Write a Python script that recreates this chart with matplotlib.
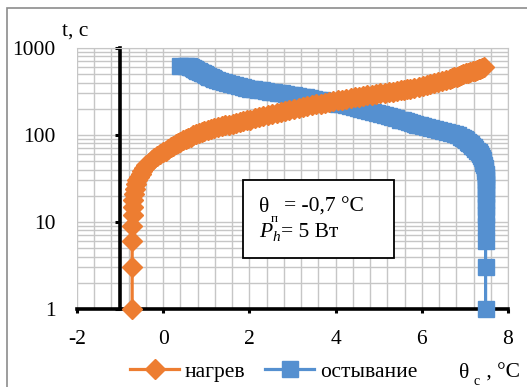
import matplotlib
matplotlib.use("Agg")

import matplotlib.pyplot as plt
from matplotlib.patches import Rectangle
from matplotlib.ticker import MultipleLocator, LogLocator, NullFormatter

plt.rcParams['font.family'] = ['Liberation Serif', 'DejaVu Serif']

#нагрев: время t [c] и температура [°C]
heat_t = [1, 3, 6, 9, 12, 15, 18, 21, 24, 27, 30, 33, 36, 39, 42, 45, 48, 51, 54, 57,
          60, 63, 66, 69, 72, 75, 78, 81, 84, 87, 90, 93, 96, 99, 102, 105, 108, 111, 114, 117,
          120, 123, 126, 129, 132, 135, 138, 141, 144, 147, 150, 155, 160, 165, 170, 175, 180, 185, 190, 195,
          200, 205, 210, 215, 220, 225, 230, 235, 240, 245, 250, 255, 260, 265, 270, 275, 280, 285, 290, 295,
          300, 305, 310, 315, 320, 325, 330, 335, 340, 350, 360, 370, 380, 390, 400, 410, 420, 430, 440, 450,
          460, 470, 480, 490, 500, 510, 520, 530, 540, 550, 560, 570, 580, 590, 600]
heat_T = [-0.72, -0.72, -0.72, -0.72, -0.71, -0.70, -0.69, -0.67, -0.65, -0.63, -0.60, -0.56, -0.52, -0.49, -0.45, -0.41, -0.34, -0.27, -0.21, -0.14,
          -0.07, 0.00, 0.06, 0.12, 0.17, 0.23, 0.29, 0.34, 0.40, 0.46, 0.52, 0.58, 0.64, 0.70, 0.76, 0.83, 0.89, 0.95, 1.03, 1.11,
          1.19, 1.28, 1.36, 1.44, 1.53, 1.61, 1.69, 1.78, 1.86, 1.94, 2.02, 2.12, 2.22, 2.32, 2.43, 2.53, 2.63, 2.73, 2.83, 2.93,
          3.04, 3.14, 3.24, 3.34, 3.45, 3.55, 3.65, 3.75, 3.85, 3.95, 4.05, 4.15, 4.25, 4.35, 4.44, 4.54, 4.64, 4.74, 4.84, 4.94,
          5.04, 5.14, 5.24, 5.33, 5.42, 5.51, 5.58, 5.65, 5.72, 5.83, 5.93, 6.02, 6.11, 6.20, 6.29, 6.38, 6.47, 6.56, 6.65, 6.70,
          6.75, 6.81, 6.86, 6.91, 6.96, 7.02, 7.07, 7.12, 7.18, 7.23, 7.28, 7.32, 7.36, 7.40, 7.44]

#остывание
cool_t = [1, 3, 6, 9, 12, 15, 18, 21, 24, 27, 30, 33, 36, 39, 42, 45, 48, 51, 54, 57,
          60, 63, 66, 69, 72, 75, 78, 81, 84, 87, 90, 93, 96, 99, 102, 105, 108, 111, 114, 117,
          120, 123, 126, 129, 132, 135, 138, 141, 144, 147, 150, 155, 160, 165, 170, 175, 180, 185, 190, 195,
          200, 205, 210, 215, 220, 225, 230, 235, 240, 245, 250, 255, 260, 265, 270, 275, 280, 285, 290, 295,
          300, 305, 310, 315, 320, 325, 330, 335, 340, 350, 360, 370, 380, 390, 400, 410, 420, 430, 440, 450,
          460, 470, 480, 490, 500, 510, 520, 530, 540, 550, 560, 570, 580, 590, 600, 610, 617, 620, 625]
cool_T = [7.48, 7.48, 7.48, 7.48, 7.48, 7.48, 7.49, 7.49, 7.49, 7.49, 7.49, 7.48, 7.48, 7.47, 7.46, 7.45, 7.43, 7.42, 7.40, 7.38,
          7.35, 7.32, 7.28, 7.24, 7.21, 7.17, 7.14, 7.10, 7.07, 7.03, 7.00, 6.95, 6.90, 6.84, 6.77, 6.68, 6.59, 6.50, 6.40, 6.31,
          6.22, 6.12, 6.03, 5.96, 5.90, 5.84, 5.77, 5.71, 5.64, 5.57, 5.50, 5.41, 5.32, 5.23, 5.14, 5.05, 4.96, 4.87, 4.78, 4.69,
          4.60, 4.51, 4.42, 4.33, 4.24, 4.15, 4.06, 3.97, 3.87, 3.78, 3.69, 3.59, 3.50, 3.41, 3.31, 3.22, 3.13, 3.03, 2.94, 2.85,
          2.75, 2.66, 2.57, 2.47, 2.38, 2.29, 2.19, 2.10, 2.01, 1.92, 1.84, 1.75, 1.66, 1.58, 1.49, 1.41, 1.32, 1.24, 1.19, 1.15,
          1.11, 1.07, 1.04, 1.00, 0.96, 0.92, 0.89, 0.85, 0.82, 0.79, 0.77, 0.74, 0.71, 0.68, 0.65, 0.63, 0.60, 0.52, 0.40]

#оси
xticks = [-2, 0, 2, 4, 6, 8]
xtick_labels = ["-2", "0", "2", "4", "6", "8"]
yticks = [1, 10, 100, 1000]
ytick_labels = ["1", "10", "100", "1000"]

orange = "#ED7D31"
blue = "#5590D0"
grid_c = "#c6c6c6"
fs = 15.5

fig = plt.figure(figsize=(5.27, 3.87), dpi=100)
ax = fig.add_axes([77/527, 1-309/387, 431/527, 261/387])

ax.plot(heat_T, heat_t, color=orange, lw=2.3, marker="D", ms=10, mec=orange,
        label="нагрев", zorder=4, clip_on=False)
ax.plot(cool_T, cool_t, color=blue, lw=2.3, marker="s", ms=11.5, mec=blue,
        label="остывание", zorder=3, clip_on=False)

ax.set_yscale("log")
ax.set_xlim(-2, 8)
ax.set_ylim(1, 1000)
ax.set_xticks(xticks)
ax.set_xticklabels(xtick_labels)
ax.set_yticks(yticks)
ax.set_yticklabels(ytick_labels)
ax.xaxis.set_minor_locator(MultipleLocator(0.4))
ax.yaxis.set_minor_locator(LogLocator(base=10, subs=range(2, 10)))
ax.yaxis.set_minor_formatter(NullFormatter())

#сетка
ax.grid(which="both", color=grid_c, lw=1.0)
ax.set_axisbelow(True)

#оси: ось y пересекает x = -1
ax.spines["left"].set_position(("data", -1))
ax.spines["left"].set_linewidth(2.6)
ax.spines["bottom"].set_linewidth(2.6)
ax.spines["top"].set_color(grid_c)
ax.spines["right"].set_color(grid_c)
ax.tick_params(axis="y", which="major", length=3.6, width=2.2, pad=43, labelsize=fs)
ax.tick_params(axis="x", which="major", length=3.2, width=2.2, pad=12, labelsize=fs)
ax.tick_params(which="minor", length=0)

#подписи осей
fig.text(62/527, 1-36/387, "t, c", fontsize=fs)
fig.text(459/527, 1-378/387, "θ", fontsize=fs)
fig.text(474/527, 1-385/387, "c", fontsize=10)
fig.text(481/527, 1-378/387, " , °C", fontsize=fs)

#рамка с параметрами
fig.patches.append(Rectangle((243/527, 1-258/387), 151/527, 78/387, transform=fig.transFigure,
                             facecolor="white", edgecolor="black", lw=1.3, zorder=1))
fig.text(259/527, 1-211.5/387, "θ", fontsize=fs, zorder=5)
fig.text(271/527, 1-222/387, "п", fontsize=9.5, zorder=5)
fig.text(284/527, 1-211.5/387, "= -0,7 °C", fontsize=fs, zorder=5)
fig.text(259/527, 1-236.5/387, "P", fontsize=fs, style="italic", zorder=5)
fig.text(272/527, 1-241/387, "h", fontsize=11, style="italic", zorder=5)
fig.text(281/527, 1-236.5/387, "= 5 Вт", fontsize=fs, zorder=5)

#легенда
fig.legend(loc="center", bbox_to_anchor=(0.519, 0.039), ncol=2, frameon=False, fontsize=fs,
           handlelength=2.3, handletextpad=0.25, columnspacing=0.9, borderpad=0.1)

#рамка диаграммы
fig.patches.append(Rectangle((7/527, -0.1), 1.2, 0.979+0.1, transform=fig.transFigure,
                             fill=False, edgecolor="#8c8c8c", lw=1.2, zorder=0))

plt.savefig("out.png", dpi=100)
